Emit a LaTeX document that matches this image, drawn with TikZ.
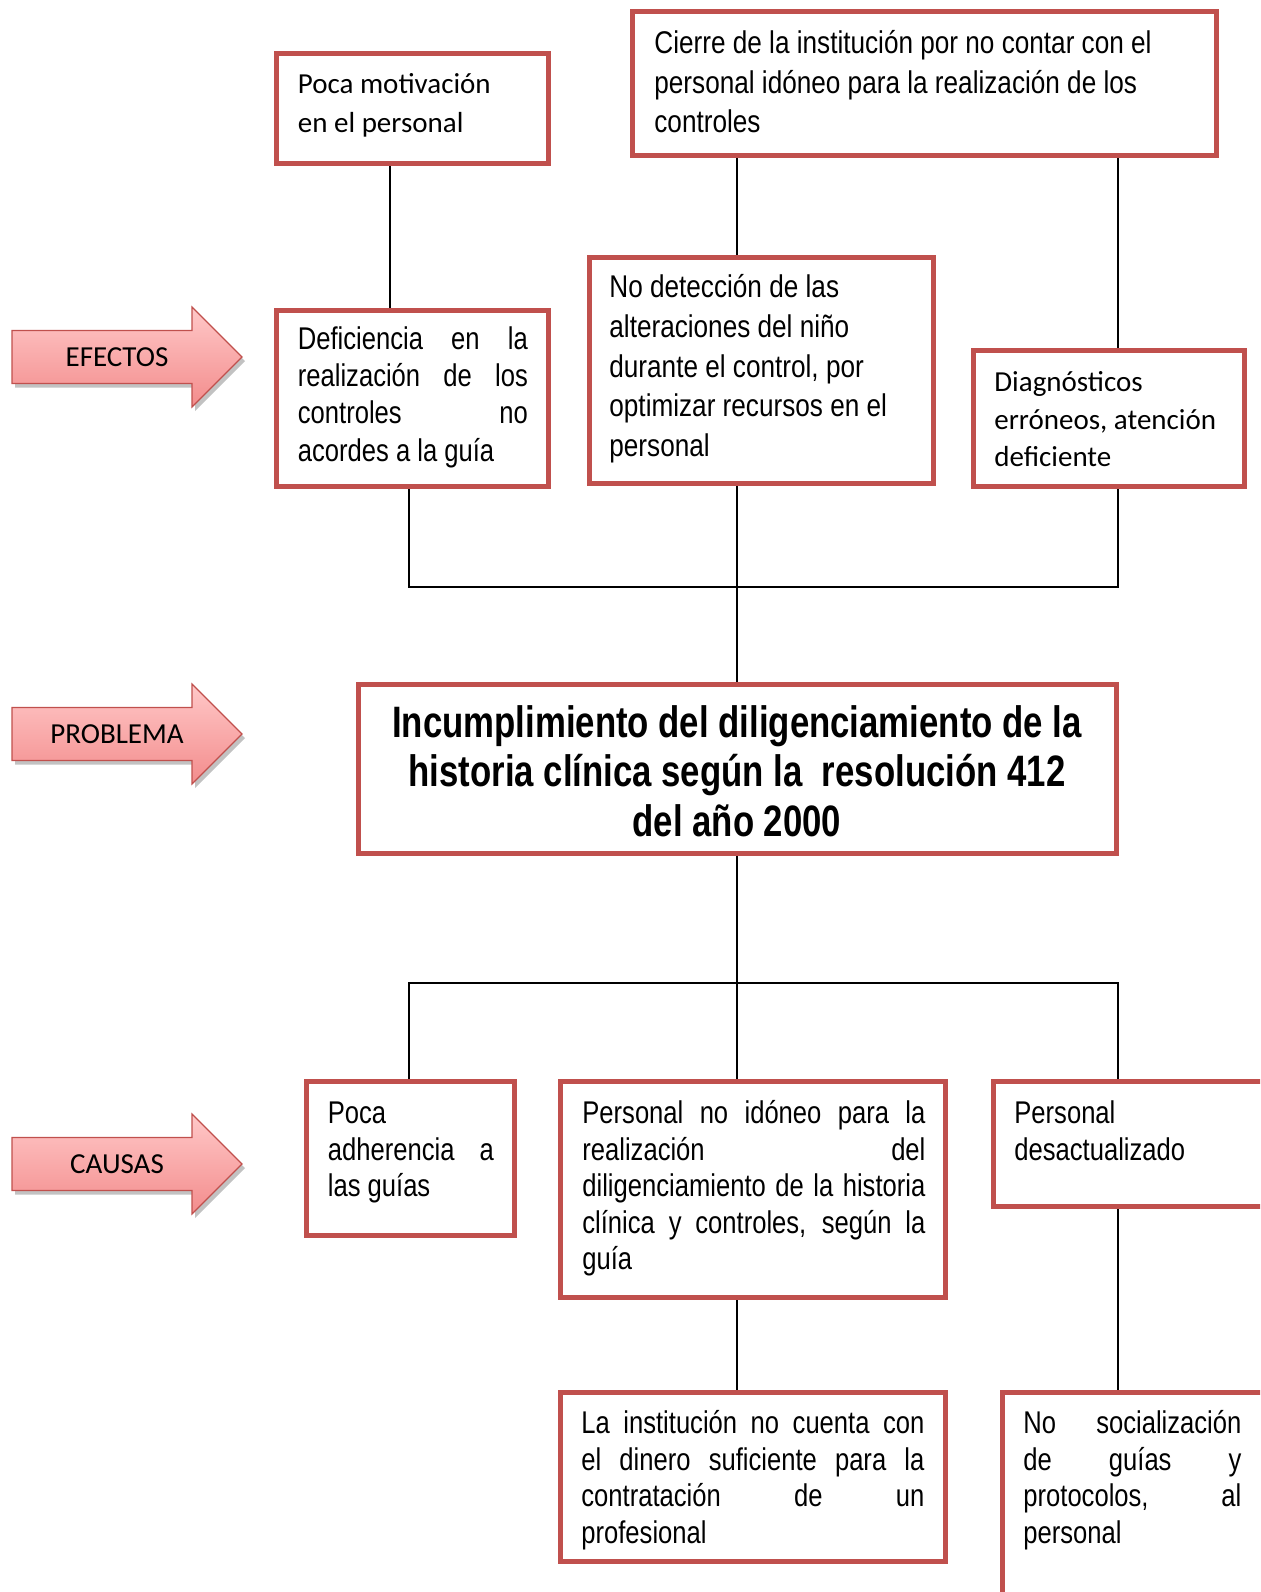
\documentclass[tikz,border=0pt]{standalone}
\usepackage{fontspec}
\setmainfont{Carlito}
\newfontfamily\arialfont{Liberation Sans}[FakeStretch=0.815]
\newfontfamily\arialancho{Liberation Sans}[FakeStretch=0.833]
\newfontfamily\titlefont{Liberation Sans}[FakeStretch=0.79]
\tolerance=10000
\hyphenpenalty=10000
\newcommand{\tope}{\rule{0pt}{14pt}}
\definecolor{marco}{RGB}{192,80,77}
\definecolor{rosaclaro}{RGB}{255,200,200}
\definecolor{rosa}{RGB}{243,140,140}
\pgfdeclarelayer{fondo}
\pgfsetlayers{fondo,main}
\tikzset{
    caja/.style={rectangle,draw=marco,line width=2.5pt,inner sep=0pt},
    txtar/.style={anchor=north west,inner sep=0pt,align=justify,font=\arialfont\fontsize{15.7}{#1}\selectfont},
    txtar/.default=18.3,
    txtlib/.style={anchor=north west,inner sep=0pt,align=left,font=\arialancho\fontsize{15.7}{19.8}\selectfont},
    txtcal/.style={anchor=north west,inner sep=0pt,align=left,font=\fontsize{14.5}{#1}\selectfont},
    txtcal/.default=19.3,
    titulo/.style={anchor=north,inner sep=0pt,align=center,font=\titlefont\bfseries\fontsize{22}{24.7}\selectfont},
    linea/.style={-,draw=black,line width=1pt},
    flecha/.style={draw=marco,line width=0.6pt,top color=rosaclaro,bottom color=rosa},
    etiq/.style={anchor=base,inner sep=0pt,font=\fontsize{14.5}{17}\selectfont},
}

\begin{document}
\begin{tikzpicture}[x=0.5pt,y=-0.5pt]
    \useasboundingbox (0,0) rectangle (1260,1592);
    \clip (0,0) rectangle (1260,1592);

    % flechas
    \foreach \lab/\yy/\nm in {EFECTOS/357/efectos,PROBLEMA/734/problema,CAUSAS/1164/causas}{
        \fill[black!40,opacity=.6,xshift=1.5pt,yshift=-2pt] (12,\yy-26.5) -- (192,\yy-26.5) -- (192,\yy-50) -- (242,\yy) -- (192,\yy+50) -- (192,\yy+26.5) -- (12,\yy+26.5) -- cycle;
        \draw[flecha] (12,\yy-26.5) -- (192,\yy-26.5) -- (192,\yy-50) -- (242,\yy) -- (192,\yy+50) -- (192,\yy+26.5) -- (12,\yy+26.5) -- cycle;
        \node[etiq] (fl\nm) at (117,\yy+9.5) {\lab};
    }

    % efectos
    \node[caja,minimum width=136pt,minimum height=55pt] (efA) at (412,108) {};
    \node[caja,minimum width=291.75pt,minimum height=72.25pt] (efB) at (924.25,83.25) {};
    \node[caja,minimum width=136pt,minimum height=88pt] (efC) at (412,398) {};
    \node[caja,minimum width=172pt,minimum height=113pt] (efD) at (761,370) {};
    \node[caja,minimum width=135.5pt,minimum height=68pt] (efE) at (1108.5,418) {};

    \node[txtcal] (efAt) at (297.5,65.5) {\tope Poca motivación\\en el personal};
    \node[txtlib] (efBt) at (654,25) {\tope Cierre de la institución por no contar con el\\personal idóneo para la realización de los\\controles};
    \node[txtar=18.6,text width=115pt] (efCt) at (297.5,321) {\tope Deficiencia en la\linebreak realización de los\linebreak controles no\linebreak acordes a la guía};
    \node[txtlib] (efDt) at (609,269.5) {\tope No detección de las\\alteraciones del niño\\durante el control, por\\optimizar recursos en el\\personal};
    \node[txtcal=18.8] (efEt) at (994,363) {\tope Diagnósticos\\erróneos, atención\\deficiente};

    % problema
    \node[caja,minimum width=379pt,minimum height=84.5pt] (prob) at (737,768.5) {};
    \node[titulo] (probt) at (737,693) {\rule{0pt}{22pt}Incumplimiento del diligenciamiento de la\\historia clínica según la~ resolución 412\\del año 2000};

    % causas
    \node[caja,minimum width=103.75pt,minimum height=77pt] (caF) at (410.25,1158) {};
    \node[caja,minimum width=192.5pt,minimum height=108pt] (caG) at (752.5,1189) {};
    \node[caja,minimum width=153.5pt,minimum height=62.5pt] (caH) at (1146.5,1143.5) {};
    \node[caja,minimum width=192.5pt,minimum height=84.75pt] (caI) at (752.5,1476.75) {};
    \node[caja,minimum width=149pt,minimum height=129pt] (caJ) at (1151,1521) {};

    \node[txtar,text width=83pt] (caFt) at (327.5,1095) {\tope Poca\\adherencia a\linebreak las guías};
    \node[txtar,text width=171.5pt] (caGt) at (582,1095) {\tope Personal no idóneo para la\linebreak realización del\linebreak diligenciamiento de la historia\linebreak clínica y controles, según la\linebreak guía};
    \node[txtar,text width=109pt] (caHt) at (1014,1095) {\tope Personal\\desactualizado};
    \node[txtar,text width=171.5pt] (caIt) at (581,1405) {\tope La institución no cuenta con\linebreak el dinero suficiente para la\linebreak contratación de un\linebreak profesional};
    \node[txtar,text width=109pt] (caJt) at (1023,1405) {\tope No socialización\linebreak de guías y\linebreak protocolos, al\linebreak personal};

    % conectores
    \coordinate (colA) at (390,0);
    \coordinate (colI) at (409,0);
    \coordinate (colM) at (737,0);
    \coordinate (colD) at (1118,0);
    \coordinate (busE) at (0,587);
    \coordinate (busC) at (0,983);
    \begin{pgfonlayer}{fondo}
        \draw[linea] (efA.south -| colA) -- (efC.north -| colA);
        \draw[linea] (efB.south -| colM) -- (efD.north -| colM);
        \draw[linea] (efB.south -| colD) -- (efE.north -| colD);
        \draw[linea] (efC.south -| colI) -- (busE -| colI) -- (busE -| colD) -- (efE.south -| colD);
        \draw[linea] (efD.south -| colM) -- (prob.north -| colM);
        \draw[linea] (prob.south -| colM) -- (busC -| colM) -- (caG.north -| colM);
        \draw[linea] (caF.north -| colI) -- (busC -| colI) -- (busC -| colD) -- (caH.north -| colD);
        \draw[linea] (caG.south -| colM) -- (caI.north -| colM);
        \draw[linea] (caH.south -| colD) -- (caJ.north -| colD);
    \end{pgfonlayer}
\end{tikzpicture}
\end{document}
